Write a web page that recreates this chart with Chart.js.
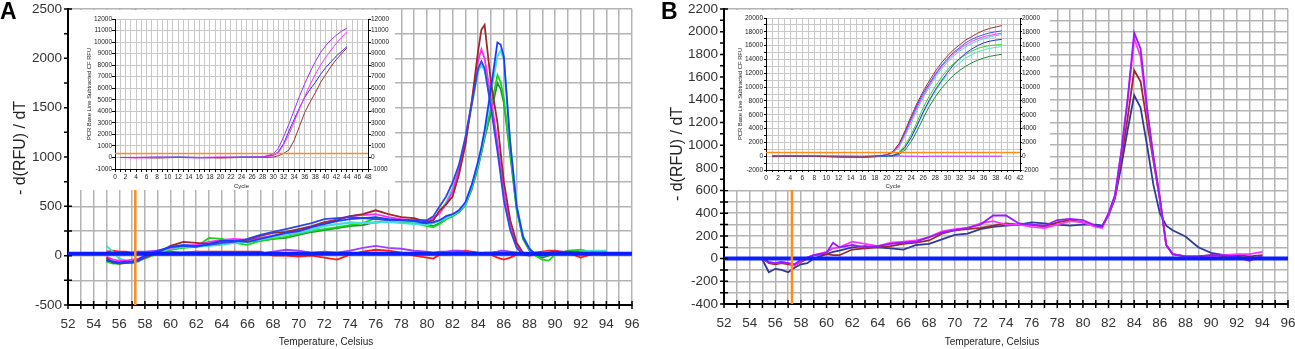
<!DOCTYPE html>
<html>
<head>
<meta charset="utf-8">
<script src="https://cdn.jsdelivr.net/npm/chart.js@4.4.0/dist/chart.umd.min.js"></script>
<style>
  body { margin: 0; background: #fff; width: 1295px; height: 349px; position: relative; overflow: hidden; font-family: "Liberation Sans", Arial, sans-serif; }
  canvas { position: absolute; }
  .inset { background: #fff; }
  .txt { position: absolute; white-space: nowrap; color: #222; line-height: 1; }
  .letter { font-weight: bold; font-size: 23px; color: #000; }
  .ytitle { font-size: 16px; transform: translate(-50%, -50%) rotate(-90deg); }
  .xtitle { font-size: 10px; transform: translateX(-50%); }
</style>
</head>
<body>
<canvas id="mainA" width="645" height="349" style="left:0;top:0"></canvas>
<canvas id="mainB" width="650" height="349" style="left:645px;top:0"></canvas>
<canvas id="insetA" class="inset" width="326" height="180" style="left:69px;top:10px"></canvas>
<canvas id="insetB" class="inset" width="325" height="180" style="left:725px;top:10px"></canvas>

<div class="txt letter" style="left:0;top:0">A</div>
<div class="txt letter" style="left:661px;top:0">B</div>
<div class="txt ytitle" style="left:20px;top:148px">- d(RFU) / dT</div>
<div class="txt ytitle" style="left:677px;top:154px">- d(RFU) / dT</div>
<div class="txt xtitle" style="left:326px;top:337px">Temperature, Celsius</div>
<div class="txt xtitle" style="left:992px;top:337px">Temperature, Celsius</div>

<script>
// ---------- panel A, melt curves ----------
const tempsA = [55, 55.5, 56, 56.5, 57, 57.5, 58, 59, 60, 61, 62, 63, 64, 65, 66, 67, 68, 69, 70, 71, 72, 73, 74, 75, 76, 77, 78, 79,
  80, 80.5, 81, 81.5, 82, 82.5, 83, 83.5, 84, 84.25, 84.5, 85, 85.5, 85.75, 86, 86.5, 87, 87.5, 88, 88.5, 89, 89.5, 90, 91, 92, 93, 94];

const brownA = [-20, -70, -80, -75, -70, -50, -20, 30, 100, 140, 130, 120, 150, 150, 160, 200, 230, 240, 270, 300, 340, 360, 400, 420, 460, 420, 390, 380,
  340, 360, 460, 520, 600, 820, 1120, 1560, 2080, 2290, 2340, 1750, 1350, 1050, 750, 360, 130, 30, 10, 30, 20, 30, 40, 30, 20, 30, 20];
const magentaA = [-10, -40, -50, -50, -40, -30, 0, 50, 80, 100, 110, 140, 160, 170, 160, 180, 200, 230, 250, 290, 330, 370, 400, 410, 420, 390, 370, 360,
  350, 380, 430, 520, 650, 870, 1180, 1560, 1980, 2090, 2000, 1600, 1150, 900, 640, 300, 100, 20, 0, 10, 30, 20, 30, 40, 20, 30, 30];
const blueA = [-40, -60, -70, -60, -70, -50, -10, 40, 90, 110, 100, 110, 130, 140, 170, 210, 240, 270, 300, 330, 370, 380, 390, 380, 370, 360, 360, 360,
  360, 400, 500, 600, 740, 920, 1200, 1540, 1900, 1970, 1900, 1500, 1060, 820, 560, 260, 80, 10, 0, 20, 30, 20, 30, 40, 30, 20, 30];
const cyanA = [100, 40, -30, -50, -80, -60, -20, 30, 70, 90, 90, 100, 110, 130, 150, 160, 190, 210, 230, 260, 300, 320, 340, 330, 330, 350, 350, 340,
  340, 370, 440, 540, 680, 880, 1170, 1520, 1870, 1930, 1880, 1520, 1100, 860, 600, 280, 90, 20, 10, 20, 30, 40, 30, 30, 40, 50, 50];
const blue2A = [-50, -60, -70, -60, -60, -40, 0, 50, 90, 100, 90, 120, 150, 150, 140, 170, 200, 230, 250, 290, 320, 350, 370, 380, 390, 370, 360, 350,
  330, 340, 360, 400, 420, 460, 540, 720, 960, 1100, 1270, 1700, 2160, 2140, 2020, 1140, 500, 190, 70, 10, 0, 10, 20, 30, 30, 20, 10];
const cyan2A = [-30, -50, -60, -60, -70, -40, -10, 30, 80, 100, 100, 120, 130, 130, 140, 180, 200, 220, 240, 270, 300, 320, 330, 330, 340, 340, 330, 320,
  310, 330, 350, 380, 410, 450, 520, 700, 940, 1080, 1240, 1650, 2020, 2080, 1980, 1150, 520, 200, 70, 10, 0, 10, 30, 30, 20, 40, 40];
const greenA = [-60, -80, -80, -70, -70, -50, -30, 20, 60, 80, 90, 180, 170, 130, 110, 150, 170, 190, 220, 250, 270, 290, 310, 330, 380, 360, 350, 330,
  300, 290, 320, 370, 400, 450, 520, 690, 920, 1060, 1210, 1500, 1830, 1760, 1600, 1050, 480, 180, 60, 0, -40, -50, 10, 50, 60, 30, 20];
const dgreenA = [-40, -70, -80, -70, -60, -40, -20, 30, 60, 90, 100, 110, 120, 150, 140, 150, 170, 180, 210, 240, 260, 280, 300, 310, 340, 350, 340, 330,
  320, 300, 330, 370, 400, 440, 510, 670, 900, 1040, 1190, 1450, 1750, 1690, 1550, 1020, 470, 170, 50, 0, -20, 0, 20, 40, 30, 20, 30];
const purpleA = [30, 40, 30, 20, 30, 40, 40, 50, 40, 30, 40, 30, 20, 30, 20, 20, 40, 60, 50, 30, 40, 30, 50, 80, 100, 80, 70, 50,
  40, 30, 40, 40, 50, 50, 40, 30, 20, 20, 30, 30, 40, 50, 50, 40, 30, 20, 20, 20, 30, 30, 40, 40, 30, 30, 30];
const redA = [40, 50, 40, 40, 30, 40, 30, 20, 20, 30, 40, 40, 40, 40, 40, 40, 0, 0, -10, 0, -20, -40, 10, 40, 60, 50, 30, 0,
  -20, -30, 10, 30, 30, 40, 50, 40, 30, 20, 20, 10, -20, -30, -40, -20, 10, 30, 20, 30, 40, 50, 50, 30, -20, 20, 10];
const baseA = 20;
const markerA = 57.25;

// ---------- panel B, melt curves ----------
const tempsB = [55, 55.5, 56, 56.5, 57, 57.5, 58, 58.5, 59, 60, 60.5, 61, 62, 63, 64, 65, 66, 67, 68, 69, 70, 71, 72, 73, 74, 75, 76, 77, 78, 79, 80, 81,
  81.5, 82, 82.5, 83, 83.5, 84, 84.5, 85, 85.5, 86, 86.5, 87, 88, 89, 90, 91, 92, 93, 94];

const purpleB = [0, -30, -40, -30, -40, -50, -10, 10, 30, 50, 140, 100, 120, 100, 110, 130, 140, 150, 190, 230, 250, 270, 300, 380, 380, 310, 300, 290, 340, 350, 340, 290,
  280, 400, 560, 950, 1420, 1990, 1850, 1330, 900, 540, 120, 40, 20, 20, 30, 30, 10, -20, 30];
const magentaB = [0, -30, -40, -30, -40, -60, -20, 10, 30, 60, 90, 100, 150, 130, 110, 140, 150, 160, 190, 240, 260, 270, 310, 330, 300, 300, 280, 270, 300, 330, 320, 280,
  270, 390, 550, 940, 1400, 1940, 1780, 1300, 890, 530, 120, 40, 20, 0, 20, 30, 40, 40, 60];
const brownB = [0, -40, -50, -40, -50, -60, -30, 0, 30, 40, 30, 30, 80, 90, 100, 110, 130, 140, 160, 220, 250, 260, 270, 290, 310, 300, 300, 280, 320, 340, 320, 290,
  280, 390, 540, 880, 1250, 1660, 1560, 1200, 860, 520, 120, 40, 20, 20, 30, 20, 30, 20, 30];
const navyB = [-10, -120, -90, -100, -120, -80, -50, -40, 0, 40, 60, 70, 100, 110, 100, 90, 80, 120, 130, 170, 210, 220, 260, 280, 290, 300, 320, 310, 300, 290, 300, 300,
  290, 380, 530, 820, 1140, 1440, 1330, 1000, 650, 400, 290, 250, 195, 100, 50, 30, 20, 0, 10];
const baseB = 0;
const markerB = 57.3;

// ---------- insets, amplification curves ----------
const cyclesA = [1, 4, 8, 12, 16, 20, 24, 28, 30, 31, 32, 33, 34, 35, 36, 37, 38, 39, 40, 41, 42, 43, 44];
const purpleIA = [0, 0, 50, 0, -50, 0, 0, 50, 300, 800, 1800, 2900, 4100, 5300, 6400, 7400, 8300, 9100, 9700, 10200, 10600, 10950, 11200];
const magentaIA = [0, -50, 0, 0, 0, 50, 0, 30, 150, 400, 1100, 2000, 3100, 4200, 5300, 6300, 7200, 8000, 8700, 9300, 9900, 10400, 10900];
const blueIA = [0, 0, 0, 50, 0, 0, 50, 40, 200, 500, 1200, 2300, 3300, 4300, 5200, 5900, 6500, 7200, 7800, 8300, 8800, 9200, 9600];
const brownIA = [0, 0, -50, 0, 0, -50, 0, 0, 30, 150, 350, 650, 1500, 2700, 3900, 4800, 5600, 6500, 7200, 7900, 8500, 9000, 9500];
const thresholdA = 350;

const cyclesB = [1, 4, 8, 12, 16, 18, 20, 21, 22, 23, 24, 25, 26, 27, 28, 29, 30, 31, 32, 33, 34, 35, 36, 37, 38, 39];
const brownIB = [0, 0, 0, -100, -100, 0, 200, 700, 1800, 3700, 5800, 7700, 9400, 10900, 12300, 13500, 14500, 15400, 16100, 16800, 17300, 17800, 18200, 18500, 18700, 18900];
const blueIB = [0, 0, -50, -100, -150, -50, 200, 650, 1700, 3500, 5500, 7400, 9100, 10500, 11900, 13100, 14100, 15000, 15700, 16400, 16900, 17300, 17600, 17850, 18000, 18150];
const magentaIB = [0, 0, 0, -50, -100, 0, 150, 550, 1500, 3200, 5200, 7100, 8800, 10300, 11700, 12900, 13900, 14800, 15500, 16100, 16600, 17000, 17300, 17500, 17650, 17800];
const cyanIB = [0, 0, 0, -50, -50, 0, 100, 450, 1300, 2900, 4800, 6700, 8500, 10000, 11400, 12600, 13600, 14500, 15200, 15800, 16300, 16700, 17000, 17300, 17450, 17600];
const blue2IB = [0, 0, 0, -100, -150, -100, 0, 100, 400, 1300, 2700, 4500, 6400, 8100, 9600, 10900, 12100, 13200, 14100, 14900, 15500, 16000, 16400, 16650, 16800, 16900];
const greenIB = [0, 0, 0, 0, -50, 0, 0, 150, 550, 1600, 3100, 5000, 7000, 8700, 10100, 11400, 12500, 13400, 14100, 14700, 15200, 15600, 15850, 16000, 16100, 16150];
const lgreenIB = [0, 0, 0, 0, 0, 0, 0, 100, 400, 1300, 2700, 4400, 6200, 7900, 9400, 10700, 11800, 12700, 13500, 14200, 14700, 15100, 15400, 15600, 15750, 15850];
const dgreenIB = [0, 0, 0, 0, 0, 0, 0, 50, 250, 900, 2100, 3700, 5500, 7200, 8600, 9800, 10800, 11700, 12400, 13000, 13500, 13900, 14200, 14450, 14600, 14750];
const flatIB = [-100, 0, 50, 0, -50, 0, 0, 0, 50, 0, 0, 0, -50, 0, 0, 0, 0, 0, 0, 0, 0, 0, 0, 0, 0, 0];
const thresholdB = 550;

const FONT = '"Liberation Sans", Arial, sans-serif';
const ORANGE = '#ff8c1a';

function pts(xs, ys) {
  return ys.map((y, i) => ({ x: xs[i], y: y }));
}

// keep the plot box where the original has it: no extra room for overhanging end labels
function fixX(h) {
  return s => { s.height = h; s.paddingLeft = 0; s.paddingRight = 0; };
}
function fixY(w) {
  return s => { s.width = w; s.paddingTop = 0; s.paddingBottom = 0; };
}

// tick marks that cross the axis lines, like the original software draws them
const crossTicks = {
  id: 'crossTicks',
  afterDatasetsDraw(chart, args, opts) {
    const { ctx, chartArea: a, scales: { x, y } } = chart;
    ctx.save();
    ctx.strokeStyle = '#000';
    ctx.lineWidth = 1.5;
    ctx.beginPath();
    for (let v = x.min; v <= x.max; v += opts.xStep) {
      const px = x.getPixelForValue(v);
      ctx.moveTo(px, a.bottom - opts.len);
      ctx.lineTo(px, a.bottom + opts.len);
    }
    for (let v = y.min; v <= y.max; v += opts.yStep) {
      const py = y.getPixelForValue(v);
      ctx.moveTo(a.left - opts.len, py);
      ctx.lineTo(a.left + opts.len, py);
    }
    ctx.stroke();
    ctx.restore();
  }
};

function meltChart(id, cfg) {
  const grid = { color: '#b4b4b4', lineWidth: 1.5, drawTicks: false };
  const border = { color: '#000', width: 2 };
  const tickFont = { size: 13.5, family: FONT };
  const datasets = [
    { data: [{ x: cfg.marker, y: cfg.yMin }, { x: cfg.marker, y: cfg.yMax }], borderColor: ORANGE, borderWidth: 2.5 },
    { data: [{ x: 52, y: cfg.base }, { x: 96, y: cfg.base }], borderColor: '#0a1eff', borderWidth: 4 }
  ].concat(cfg.series.map(s => ({ data: pts(cfg.temps, s.values), borderColor: s.color, borderWidth: 1.8 })));

  return new Chart(document.getElementById(id), {
    type: 'line',
    data: { datasets },
    plugins: [crossTicks],
    options: {
      responsive: false,
      animation: false,
      devicePixelRatio: 1,
      layout: { padding: { top: 9, right: cfg.padRight, left: 0, bottom: 0 } },
      elements: { point: { radius: 0 }, line: { tension: 0 } },
      plugins: {
        legend: { display: false },
        tooltip: { enabled: false },
        crossTicks: { xStep: 1, yStep: cfg.yStep, len: 4 }
      },
      scales: {
        x: {
          type: 'linear', min: 52, max: 96,
          afterFit: fixX(cfg.xH),
          grid, border,
          ticks: { stepSize: 1, autoSkip: false, maxRotation: 0, minRotation: 0, padding: 11, color: '#333', font: tickFont,
            callback: v => (v % 2 === 0 ? v : '') }
        },
        y: {
          min: cfg.yMin, max: cfg.yMax,
          afterFit: fixY(cfg.yW),
          grid, border,
          ticks: { stepSize: cfg.yStep, autoSkip: false, padding: cfg.yPad, color: '#333', font: tickFont,
            callback: v => (v % cfg.yLabelStep === 0 ? v : '') }
        }
      }
    }
  });
}

function ampChart(id, cfg) {
  const font = { size: 6.5, family: FONT };
  const grid = { color: '#c8c8c8', lineWidth: 1, tickLength: cfg.tick, tickColor: '#000' };
  const border = { color: '#000', width: 1 };
  const datasets = [
    { data: [{ x: 0, y: cfg.threshold }, { x: cfg.xMax, y: cfg.threshold }], borderColor: ORANGE, borderWidth: 1.5 }
  ].concat(cfg.series.map(s => ({ data: pts(cfg.cycles, s.values), borderColor: s.color, borderWidth: 1 })));

  const yTicks = { stepSize: 1000, autoSkip: false, padding: cfg.yPad, color: '#222', font,
    callback: v => (v % cfg.yLabelStep === 0 ? v : '') };

  return new Chart(document.getElementById(id), {
    type: 'line',
    data: { datasets },
    options: {
      responsive: false,
      animation: false,
      devicePixelRatio: 1,
      layout: { padding: { top: cfg.top, right: 0, left: 0, bottom: 0 } },
      elements: { point: { radius: 0 }, line: { tension: 0 } },
      plugins: { legend: { display: false }, tooltip: { enabled: false } },
      scales: {
        x: {
          type: 'linear', min: 0, max: cfg.xMax,
          afterFit: fixX(cfg.xH),
          grid, border,
          ticks: { stepSize: 1, autoSkip: false, maxRotation: 0, minRotation: 0, padding: cfg.xPad, color: '#222', font,
            callback: v => (v % 2 === 0 ? v : '') },
          title: { display: true, text: 'Cycle', color: '#222', font: { size: 6, family: FONT }, padding: 0 }
        },
        y: {
          min: cfg.yMin, max: cfg.yMax,
          afterFit: fixY(cfg.yW),
          grid, border, ticks: yTicks,
          title: { display: true, text: 'PCR Base Line Subtracted CF RFU', color: '#222',
            font: { size: 5.8, family: FONT }, padding: { top: cfg.titlePad, bottom: 0 } }
        },
        y2: {
          position: 'right', min: cfg.yMin, max: cfg.yMax,
          afterFit: fixY(cfg.y2W),
          grid: { drawOnChartArea: false, tickLength: cfg.tick, tickColor: '#000' },
          border, ticks: Object.assign({}, yTicks, { padding: 0 })
        }
      }
    }
  });
}

meltChart('mainA', {
  temps: tempsA, yMin: -500, yMax: 2500, yStep: 250, yLabelStep: 500,
  yW: 68, xH: 44, padRight: 13, yPad: 6, base: baseA, marker: markerA,
  series: [
    { values: blue2A, color: '#1a3cff' },
    { values: blueA, color: '#2f46e8' },
    { values: brownA, color: '#a02828' },
    { values: magentaA, color: '#ff2cff' },
    { values: cyan2A, color: '#3fe0e0' },
    { values: cyanA, color: '#45d8d0' },
    { values: greenA, color: '#18d818' },
    { values: dgreenA, color: '#1f8f3a' },
    { values: purpleA, color: '#a040ff' },
    { values: redA, color: '#ff1a1a' }
  ]
});

meltChart('mainB', {
  temps: tempsB, yMin: -400, yMax: 2200, yStep: 100, yLabelStep: 200,
  yW: 79, xH: 45, padRight: 7, yPad: 6, base: baseB, marker: markerB,
  series: [
    { values: purpleB, color: '#9a1aff' },
    { values: magentaB, color: '#ff33ff' },
    { values: brownB, color: '#9c2a2a' },
    { values: navyB, color: '#2e3a9c' }
  ]
});

ampChart('insetA', {
  cycles: cyclesA, xMax: 48, yMin: -1000, yMax: 12000, yLabelStep: 1000,
  top: 9, xH: 21, yW: 46, y2W: 27, tick: 3, yPad: 0, xPad: 1.5, titlePad: 16.5, threshold: thresholdA,
  series: [
    { values: purpleIA, color: '#9933ff' },
    { values: magentaIA, color: '#ff33ff' },
    { values: blueIA, color: '#3333cc' },
    { values: brownIA, color: '#993333' }
  ]
});

ampChart('insetB', {
  cycles: cyclesB, xMax: 42, yMin: -2000, yMax: 20000, yLabelStep: 2000,
  top: 8, xH: 20, yW: 41, y2W: 30, tick: 2, yPad: 1, xPad: 2, titlePad: 11.5, threshold: thresholdB,
  series: [
    { values: brownIB, color: '#993333' },
    { values: blueIB, color: '#3355ff' },
    { values: magentaIB, color: '#ff33ff' },
    { values: cyanIB, color: '#55ccff' },
    { values: blue2IB, color: '#2233dd' },
    { values: greenIB, color: '#33cc33' },
    { values: lgreenIB, color: '#44eeaa' },
    { values: dgreenIB, color: '#228833' },
    { values: flatIB, color: '#cc22ff' }
  ]
});
</script>
</body>
</html>
